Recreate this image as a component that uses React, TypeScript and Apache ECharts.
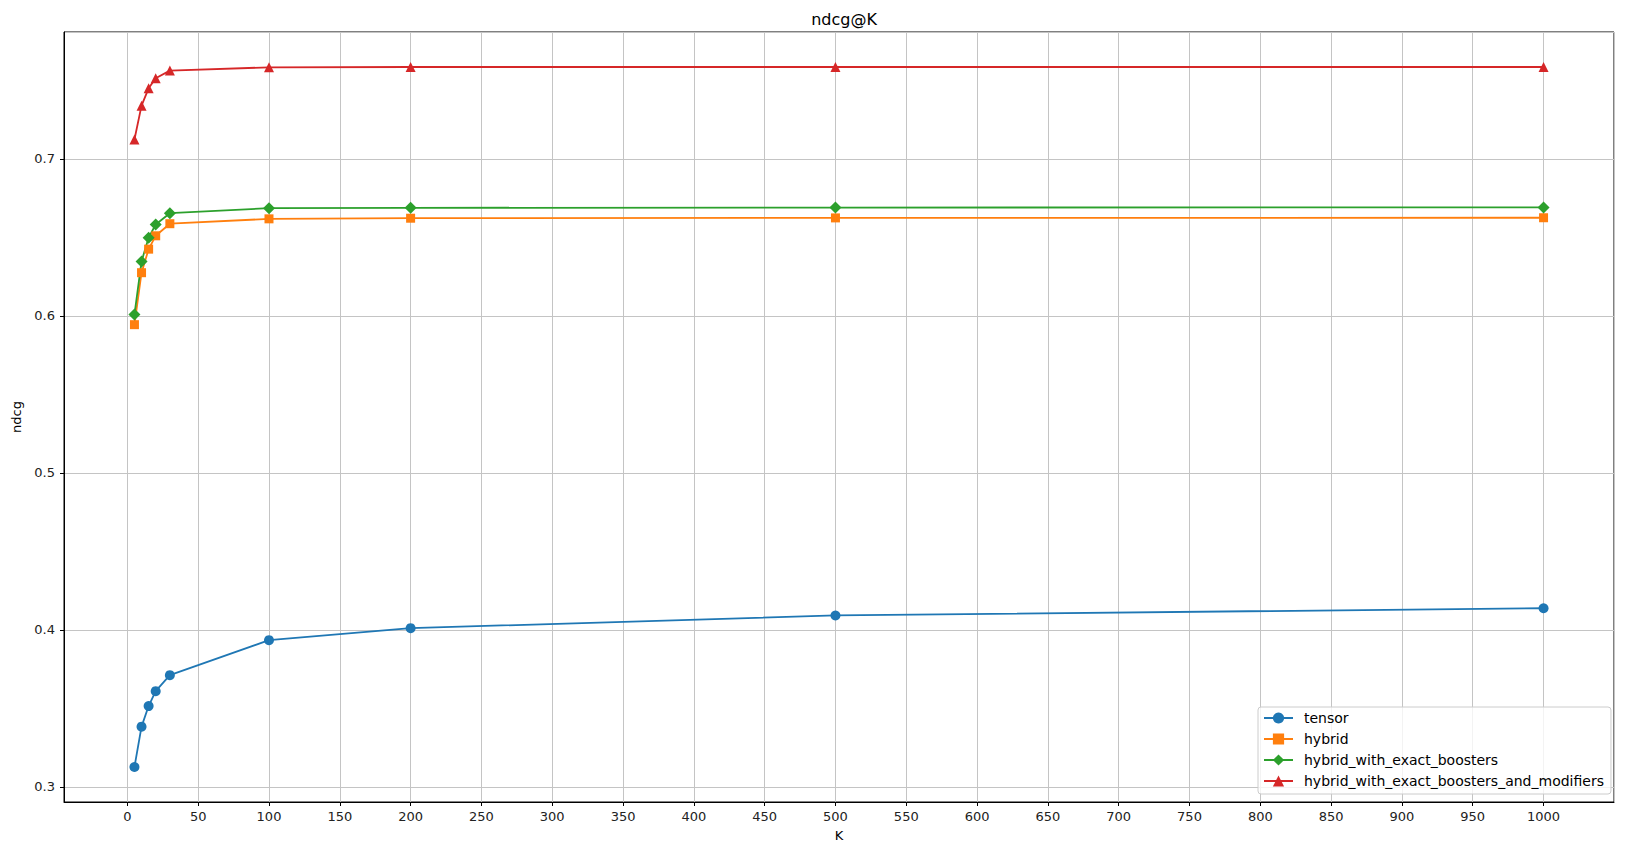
import React, { useEffect, useRef } from "react";
import * as echarts from "echarts";

const K = [5, 10, 15, 20, 30, 100, 200, 500, 1000];
const tensor = [0.3127, 0.3384, 0.3515, 0.361, 0.3712, 0.3935, 0.4011, 0.4092, 0.4138];
const hybrid = [0.5944, 0.6275, 0.6425, 0.651, 0.6587, 0.6618, 0.6622, 0.6624, 0.6625];
const hybridExact = [0.6008, 0.6347, 0.6498, 0.6582, 0.6654, 0.6686, 0.6688, 0.669, 0.6691];
const hybridExactMod = [0.7123, 0.7339, 0.7449, 0.7513, 0.7562, 0.7583, 0.7585, 0.7585, 0.7585];

const seriesNames = [
  "tensor",
  "hybrid",
  "hybrid_with_exact_boosters",
  "hybrid_with_exact_boosters_and_modifiers",
];
const seriesValues = [tensor, hybrid, hybridExact, hybridExactMod];
const colors = ["#1f77b4", "#ff7f0e", "#2ca02c", "#d62728"];
const symbols = ["circle", "rect", "diamond", "triangle"];
const symbolSizes = [10, 9, 12, 10];

const FONT = "DejaVu Sans";

export default function App() {
  const ref = useRef<HTMLDivElement>(null);
  useEffect(() => {
    if (!ref.current) return;
    const chart = echarts.init(ref.current, undefined, { renderer: "svg" });

    const xMinD = Math.min(...K);
    const xMaxD = Math.max(...K);
    const xPad = (xMaxD - xMinD) * 0.05;
    const allY = seriesValues.flat();
    const yMinD = Math.min(...allY);
    const yMaxD = Math.max(...allY);
    const yPad = (yMaxD - yMinD) * 0.05;

    const option: any = {
      animation: false,
      backgroundColor: "#ffffff",
      textStyle: { fontFamily: FONT },
      title: {
        text: "ndcg@K",
        left: 839,
        top: 6,
        textAlign: "center",
        textStyle: { fontFamily: FONT, fontSize: 16, fontWeight: "normal", color: "#000" },
      },
      grid: {
        left: 64,
        right: 21,
        top: 32,
        bottom: 50,
        show: true,
        borderColor: "#000",
        borderWidth: 1,
        backgroundColor: "transparent",
      },
      legend: {
        orient: "vertical",
        left: 1258,
        top: 707,
        itemWidth: 29,
        itemHeight: 14,
        itemGap: 7,
        padding: [4, 7, 6, 5],
        backgroundColor: "rgba(255,255,255,0.8)",
        borderColor: "#cccccc",
        borderWidth: 1,
        borderRadius: 3,
        textStyle: { fontFamily: FONT, fontSize: 14, color: "#000", padding: [0, 0, 0, 6] },
        data: seriesNames,
      },
      xAxis: {
        type: "value",
        min: xMinD - xPad,
        max: xMaxD + xPad,
        splitNumber: 22,
        name: "K",
        nameLocation: "middle",
        nameGap: 27,
        nameTextStyle: { fontFamily: FONT, fontSize: 13, color: "#000" },
        axisLine: { show: true, onZero: false, lineStyle: { color: "#000", width: 1 } },
        axisTick: { show: true, length: 4, lineStyle: { color: "#000" } },
        axisLabel: {
          fontFamily: FONT,
          fontSize: 13,
          color: "#222",
          margin: 8,
          showMinLabel: false,
          showMaxLabel: false,
          formatter: (v: number) => String(Math.round(v)),
        },
        splitLine: { show: true, lineStyle: { color: "#c4c4c4", width: 1 } },
      },
      yAxis: {
        type: "value",
        min: yMinD - yPad,
        max: yMaxD + yPad,
        splitNumber: 5,
        name: "ndcg",
        nameLocation: "middle",
        nameGap: 38,
        nameRotate: 90,
        nameTextStyle: { fontFamily: FONT, fontSize: 13, color: "#000" },
        axisLine: { show: true, onZero: false, lineStyle: { color: "#000", width: 1 } },
        axisTick: { show: true, length: 4, lineStyle: { color: "#000" } },
        axisLabel: {
          fontFamily: FONT,
          fontSize: 13,
          color: "#222",
          margin: 9,
          showMinLabel: false,
          showMaxLabel: false,
          formatter: (v: number) => v.toFixed(1),
        },
        splitLine: { show: true, lineStyle: { color: "#c4c4c4", width: 1 } },
      },
      series: seriesNames.map((name, i) => ({
        name,
        type: "line",
        data: K.map((k, j) => [k, seriesValues[i][j]]),
        symbol: symbols[i],
        symbolSize: symbolSizes[i],
        showSymbol: true,
        clip: false,
        itemStyle: { color: colors[i] },
        lineStyle: { color: colors[i], width: 1.8 },
        emphasis: { disabled: true },
      })),
    };
    chart.setOption(option);
    return () => chart.dispose();
  }, []);

  return (
    <div
      ref={ref}
      style={{ position: "fixed", left: 0, top: 0, width: 1635, height: 852 }}
    />
  );
}
